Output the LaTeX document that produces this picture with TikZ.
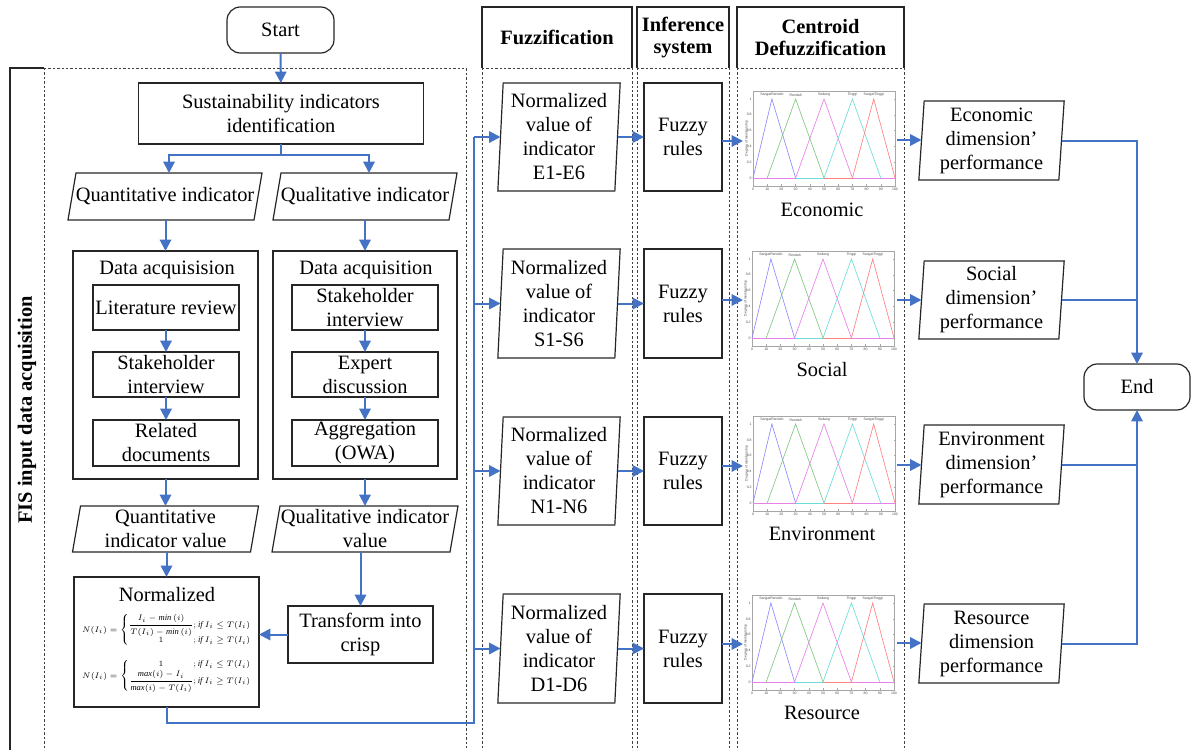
\documentclass[tikz,border=0pt]{standalone}
\usepackage{amsmath}
\usepackage{fontspec}
\setmainfont{Liberation Serif}
\newfontfamily\chartfont{Liberation Sans}
\usetikzlibrary{arrows.meta,calc}
\definecolor{arrblue}{HTML}{4472C4}
\definecolor{mfb}{RGB}{140,140,255}
\definecolor{mfg}{RGB}{130,200,130}
\definecolor{mfm}{RGB}{230,130,230}
\definecolor{mfc}{RGB}{110,220,220}
\definecolor{mfr}{RGB}{255,130,130}
\newcommand\slantbox[2]{\draw[line width=0.9pt,draw=black!85] ([xshift=#2]#1.north west) -- ([xshift=#2]#1.north east) -- ([xshift=-#2]#1.south east) -- ([xshift=-#2]#1.south west) -- cycle;}
\newcommand\mfchart[2]{%
\begin{scope}[shift={(#1,#2)},x=1.065pt,y=59.25pt]
 \draw[black!35,line width=0.3pt] (0,-0.1) rectangle (100,1.1);
 \foreach \t in {0,10,...,100}{\draw[black!35,line width=0.2pt] (\t,-0.1) -- (\t,-0.08);
   \node[tk,anchor=north] at (\t,-0.13) {\t};}
 \foreach \v in {0,0.2,0.4,0.6,0.8,1}{\draw[black!35,line width=0.2pt] (100,\v) -- (99,\v);
   \node[tk,anchor=east] at (-0.8,\v) {\v};}
 \node[tk,rotate=90] at (-4.5,0.5) {Degree of membership};
 \draw[mfm,line width=0.5pt] (0,0) -- (30,0);
 \draw[mfc,line width=0.5pt] (30,0) -- (50,0);
 \draw[mfr,line width=0.5pt] (50,0) -- (70,0);
 \draw[mfm,line width=0.5pt] (70,0) -- (100,0);
 \draw[mfb,line width=0.5pt] (0,0) -- (13.3,1) -- (30,0);
 \draw[mfg,line width=0.5pt] (10,0) -- (30,1) -- (50,0);
 \draw[mfm,line width=0.5pt] (30,0) -- (50,1) -- (70,0);
 \draw[mfc,line width=0.5pt] (50,0) -- (70,1) -- (90,0);
 \draw[mfr,line width=0.5pt] (70,0) -- (85,1) -- (100,0);
 \node[tk] at (13.3,1.05) {SangatRendah};
 \node[tk] at (30,1.05) {Rendah};
 \node[tk] at (50,1.05) {Sedang};
 \node[tk] at (70,1.05) {Tinggi};
 \node[tk] at (85,1.05) {SangatTinggi};
\end{scope}}
\begin{document}
\begin{tikzpicture}[x=0.75pt,y=-0.75pt,font=\fontsize{15.3}{18}\selectfont,
 box/.style={draw=black!85,line width=0.9pt,inner sep=0pt,outer sep=0pt,align=center},
 sz/.style 2 args={minimum width=#1*0.75pt,minimum height=#2*0.75pt},
 txt/.style={inner sep=0pt,outer sep=0pt,align=center},
 rbox/.style={box,rounded corners=10pt},
 arr/.style={draw=arrblue,line width=1.5pt,-{Triangle[length=8.5pt,width=8.5pt]}},
 bl/.style={draw=arrblue,line width=1.5pt},
 dsh/.style={draw=black!75,line width=0.75pt,dash pattern=on 1.8pt off 1.5pt},
 hdr/.style={txt,font=\fontsize{15.3}{16}\selectfont\bfseries},
 tk/.style={inner sep=0pt,font=\chartfont\fontsize{2.6}{3}\selectfont,text=black!70}]
\useasboundingbox (0,0) rectangle (1191,750);
\coordinate (bot) at (0,750);

% ---------- FIS input data acquisition frame ----------
\draw[line width=0.9pt,black!85] (10,750) -- (10,68) -- (44,68);
\draw[dsh] (44,68) -- (466,68) -- (466,750);
\draw[dsh] (44,68) -- (44,750);
\node[txt,rotate=90,font=\fontsize{15.3}{18}\selectfont\bfseries] (fis) at (27,410) {FIS input data acquisition};

% ---------- column headers ----------
\node[hdr,sz={150}{61}] (hf) at (557,37.5) {Fuzzification};
\node[hdr,sz={92}{61}] (hi) at (683,37.5) {Inference\\system};
\node[hdr,sz={167}{61}] (hc) at (820.5,37.5) {Centroid\\Defuzzification};
\foreach \h in {hf,hi,hc}{
 \draw[line width=0.9pt,black!85] (\h.south west) -- (\h.north west) -- (\h.north east) -- (\h.south east);
 \draw[dsh] (\h.south west) -- (\h.south east);
 \draw[dsh] (\h.south west) -- (\h.south west |- bot);
 \draw[dsh] (\h.south east) -- (\h.south east |- bot);
}

% ---------- left part ----------
\node[rbox,sz={107}{46}] (start) at (280.5,30) {Start};
\node[box,sz={285}{61}] (sus) at (281,113.5) {Sustainability indicators\\identification};
\node[txt,sz={186}{47}] (quant) at (165,196.5) {Quantitative indicator};
\slantbox{quant}{3pt}
\node[txt,sz={176}{47}] (qual) at (365,196.5) {Qualitative indicator};
\slantbox{qual}{3pt}

\node[box,sz={185}{228}] (dataL) at (165.5,365) {};
\node[box,sz={184}{228}] (dataR) at (365,365) {};
\node[txt] (dataLt) at (167,270) {Data acquisision};
\node[txt] (dataRt) at (366,270) {Data acquisition};

\node[box,sz={146}{45}] (lit) at (166,307.5) {Literature review};
\node[box,sz={146}{45}] (stkL) at (166,374.5) {Stakeholder\\interview};
\node[box,sz={146}{46}] (rel) at (166,443) {Related\\documents};
\node[box,sz={146}{45}] (stkR) at (365,307.5) {Stakeholder\\interview};
\node[box,sz={146}{45}] (exp) at (365,374.5) {Expert\\discussion};
\node[box,sz={146}{46}] (agg) at (365,443) {Aggregation\\(OWA)};

\node[txt,sz={178}{46}] (qtv) at (165.5,529) {Quantitative\\indicator value};
\slantbox{qtv}{3pt}
\node[txt,sz={178}{46}] (qlv) at (365,529) {Qualitative indicator\\value};
\slantbox{qlv}{3pt}

\node[box,sz={185}{130}] (norm) at (166.5,642) {};
\node[txt] (normt) at (167,595) {Normalized};
\node[txt,font=\fontsize{6.4}{7}\selectfont] (f1) at (167,630) {$N(I_i)=\left\{\begin{array}{@{}c@{}l@{}}\dfrac{I_i-\mathit{min}\,(i)}{T(I_i)-\mathit{min}\,(i)} & ;\mathit{if}\ I_i\le T(I_i)\\[1pt] 1 & ;\mathit{if}\ I_i\ge T(I_i)\end{array}\right.$};
\node[txt,font=\fontsize{6.4}{7}\selectfont] (f2) at (167,676) {$N(I_i)=\left\{\begin{array}{@{}c@{}l@{}} 1 & ;\mathit{if}\ I_i\le T(I_i)\\[1pt] \dfrac{\mathit{max}(i)-I_i}{\mathit{max}(i)-T(I_i)} & ;\mathit{if}\ I_i\ge T(I_i)\end{array}\right.$};
\node[box,sz={145}{57}] (tr) at (360.5,634.5) {Transform into\\crisp};

% left arrows
\draw[arr] (start) -- (sus);
\coordinate (split) at (281,155);
\draw[bl] (sus.south) -- (split);
\draw[arr] (split) -| ([xshift=3pt]quant.north);
\draw[arr] (split) -| ([xshift=3pt]qual.north);
\draw[arr] (quant.south -| dataL.north) -- (dataL.north);
\draw[arr] (qual.south -| dataR.north) -- (dataR.north);
\draw[arr] (lit) -- (stkL);
\draw[arr] (stkL) -- (rel);
\draw[arr] (stkR) -- (exp);
\draw[arr] (exp) -- (agg);
\draw[arr] (dataL.south) -- (dataL.south |- qtv.north);
\draw[arr] (dataR.south) -- (dataR.south |- qlv.north);
\draw[arr] (qtv.south -| norm.north) -- (norm.north);
\draw[arr] (qlv.south -| tr.north) -- (tr.north);
\draw[arr] (tr.west) -- (tr.west -| norm.east);

% ---------- fuzzification column ----------
\node[txt,sz={117}{108}] (pE) at (559,137) {Normalized\\value of\\indicator\\E1-E6};
\slantbox{pE}{2pt}
\node[txt,sz={117}{109}] (pS) at (559,303.5) {Normalized\\value of\\indicator\\S1-S6};
\slantbox{pS}{2pt}
\node[txt,sz={117}{108}] (pN) at (559,471) {Normalized\\value of\\indicator\\N1-N6};
\slantbox{pN}{2pt}
\node[txt,sz={117}{109}] (pD) at (559,648.5) {Normalized\\value of\\indicator\\D1-D6};
\slantbox{pD}{2pt}

\coordinate (n2) at (474,723);
\draw[bl] (norm.south) |- (n2) -- (n2 |- pE.west);
\foreach \p in {pE,pS,pN,pD}{\draw[arr] (n2 |- \p.west) -- (\p.west);}

% ---------- inference column ----------
\node[box,sz={78}{108}] (rE) at (683,137) {Fuzzy\\rules};
\node[box,sz={78}{109}] (rS) at (683,303.5) {Fuzzy\\rules};
\node[box,sz={78}{108}] (rN) at (683,471) {Fuzzy\\rules};
\node[box,sz={78}{109}] (rD) at (683,648.5) {Fuzzy\\rules};
\foreach \p/\r in {pE/rE,pS/rS,pN/rN,pD/rD}{\draw[arr] (\p.east) -- (\p.east -| \r.west);}

% ---------- defuzzification column ----------
\mfchart{753}{178}
\mfchart{752}{338}
\mfchart{753}{503}
\mfchart{752}{682}
\coordinate (cEi) at (743,141); \coordinate (cEo) at (897,140);
\coordinate (cSi) at (743,300); \coordinate (cSo) at (897,300);
\coordinate (cNi) at (743,466); \coordinate (cNo) at (897,465);
\coordinate (cDi) at (743,644); \coordinate (cDo) at (897,643);
\node[txt] (lE) at (822,210) {Economic};
\node[txt] (lS) at (822,370) {Social};
\node[txt] (lN) at (822,534) {Environment};
\node[txt] (lD) at (822,713) {Resource};
\foreach \r/\c in {rE/cEi,rS/cSi,rN/cNi,rD/cDi}{\draw[arr] (\r.east |- \c) -- (\c);}

% ---------- outputs ----------
\node[txt,sz={140}{79}] (oE) at (991.5,140.5) {Economic\\dimension’\\performance};
\slantbox{oE}{2pt}
\node[txt,sz={140}{78}] (oS) at (991.5,300) {Social\\dimension’\\performance};
\slantbox{oS}{2pt}
\node[txt,sz={140}{79}] (oN) at (991.5,464.5) {Environment\\dimension’\\performance};
\slantbox{oN}{2pt}
\node[txt,sz={140}{79}] (oD) at (991.5,643.5) {Resource\\dimension\\performance};
\slantbox{oD}{2pt}
\foreach \c/\o in {cEo/oE,cSo/oS,cNo/oN,cDo/oD}{\draw[arr] (\c) -- (\c -| \o.west);}

\node[rbox,sz={106}{46}] (end) at (1137,387) {End};
\draw[arr] (oE.east) -| (end.north);
\draw[bl] (oS.east) -- (oS.east -| end.north);
\draw[bl] (oN.east) -- (oN.east -| end.south);
\draw[arr] (oD.east) -| (end.south);
\end{tikzpicture}
\end{document}
